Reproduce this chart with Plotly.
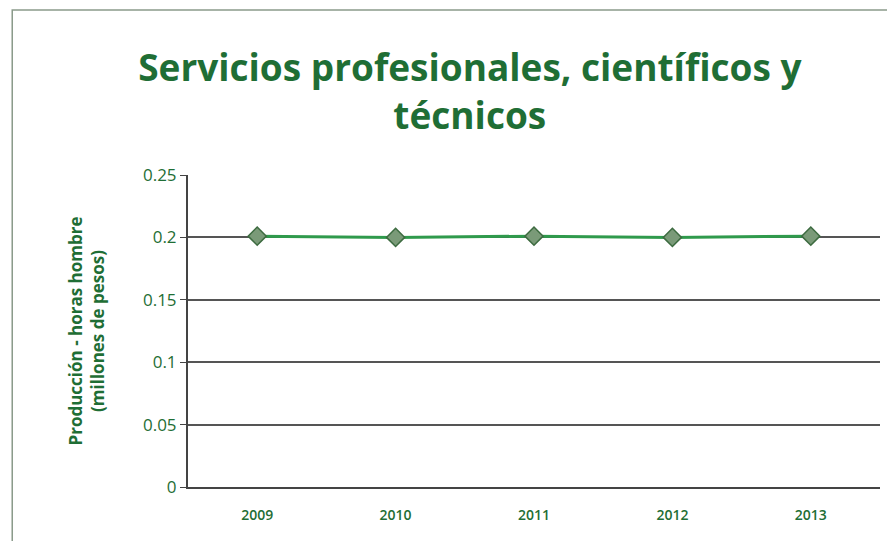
import plotly.graph_objects as go

# data
years = ['2009', '2010', '2011', '2012', '2013']
valores = [0.201, 0.2, 0.201, 0.2, 0.201]
y_ticks = [0, 0.05, 0.1, 0.15, 0.2, 0.25]
y_labels = ['0', '0.05', '0.1', '0.15', '0.2', '0.25']

verde = '#1f6e35'

fig = go.Figure()
fig.add_trace(go.Scatter(x=years, y=valores,
                         mode='lines+markers',
                         line=dict(color='#2f9a4c', width=3),
                         marker=dict(symbol='diamond', size=14, color='#7a9a78',
                                     line=dict(color='#3d6b40', width=1.5)),
                         showlegend=False))

fig.update_layout(
    width=895, height=541,
    paper_bgcolor='white', plot_bgcolor='white',
    margin=dict(l=180, r=23, t=167, b=62),
    font=dict(family='Open Sans, Calibri, sans-serif', color='#333333'),
    title=dict(text='<b>Servicios profesionales, científicos y<br>técnicos</b>',
               x=0.516, xanchor='center', y=0.865, yanchor='top',
               font=dict(size=37, color=verde, family='Open Sans, sans-serif')),
    shapes=[dict(type='rect', xref='paper', yref='paper',
                 x0=-0.254, x1=1.2, y0=-0.19, y1=1.529,
                 line=dict(color='#8a9a8a', width=1.5))],
)
fig.update_xaxes(type='category', range=[-0.5, 4.5], showgrid=False,
                 showline=True, linecolor='#444444', linewidth=2,
                 ticks='', ticklabelstandoff=14,
                 tickfont=dict(size=14, color=verde,
                               family='Open Sans Semibold, Open Sans, sans-serif'))
fig.update_yaxes(range=[0, 0.25], tickvals=y_ticks, ticktext=y_labels,
                 showgrid=True, gridcolor='#555555', gridwidth=2,
                 showline=True, linecolor='#444444', linewidth=2,
                 ticks='outside', ticklen=6, tickcolor='#444444',
                 zeroline=False, tickfont=dict(size=17, color=verde),
                 title=dict(text='<b>Producción - horas hombre<br>(millones de pesos)</b>',
                            font=dict(size=17, color=verde), standoff=34))

fig.write_html("out.html")
